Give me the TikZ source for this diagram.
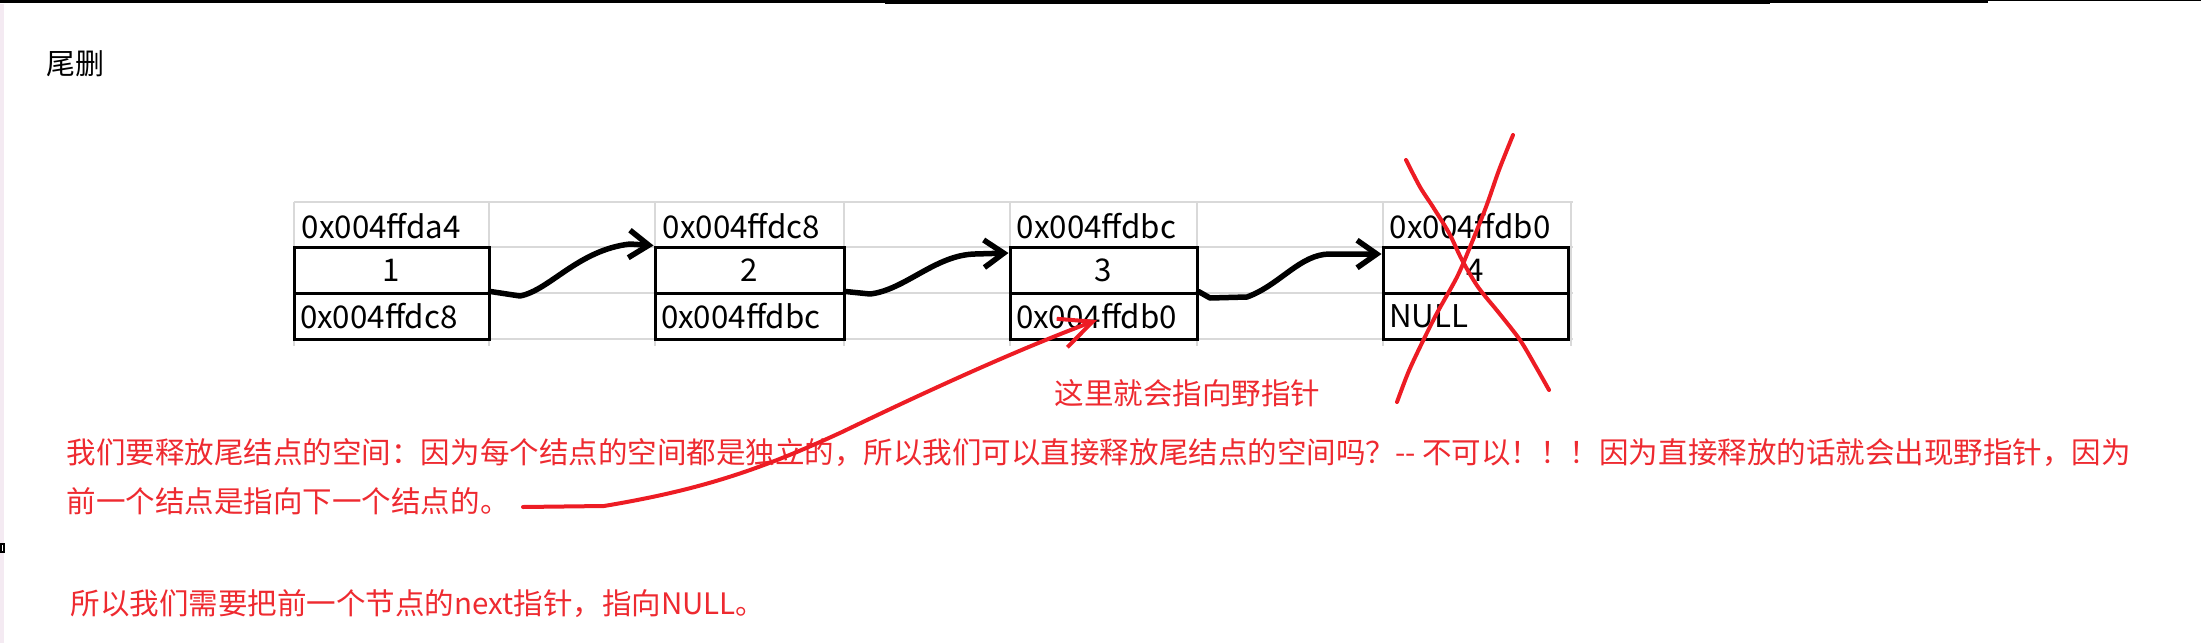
\documentclass[tikz,border=0pt]{standalone}
\usepackage{fontspec}
\setmainfont{Noto Sans CJK SC}
\usepackage{xcolor}
\definecolor{inkRed}   {HTML}{ED1C24}
\definecolor{noteRed}  {HTML}{EE2A30}
\definecolor{gridGray} {HTML}{D9D9D9}
\definecolor{edgeTint} {HTML}{F4EAF2}
\usetikzlibrary{arrows.meta, positioning, calc}
\tikzset{
    cell/.style={draw, thick, line width=0.3mm, rectangle, inner sep=0pt,
                 minimum height=4.6mm, font=\fontsize{8.9}{10}\selectfont},
    nextcell/.style={cell, text width=#1, inner xsep=0.6mm, align=left},
    addr/.style={anchor=base west, inner sep=0pt,
                 font=\fontsize{8.9}{10}\selectfont},
    note/.style={anchor=base west, inner sep=0pt, text=noteRed,
                 font=\fontsize{8.4}{10}\selectfont},
    gridline/.style={gridGray, line width=0.15mm},
    ptr/.style={-{Straight Barb[angle=70:2.4mm]}, line width=0.55mm,
                line cap=round, line join=round},
    wildptr/.style={-{Straight Barb[angle=50:3.6mm]}, inkRed,
                    line width=0.4mm, line cap=round, line join=round},
    crossline/.style={inkRed, line width=0.4mm, line cap=round},
}

\begin{document}
\begin{tikzpicture}[x=0.1mm, y=-0.1mm]
\useasboundingbox (0,0) rectangle (2201,643);

% --- window edge ---
\fill (0,0) rectangle (885,2.8);
\fill (885,0) rectangle (1770,4.2);
\fill (1770,0) rectangle (1988,2.8);
\fill (1988,0) rectangle (2201,1.4);
\fill[edgeTint] (0,4) rectangle (4,643);
\draw[line width=0.2mm, fill=white] (0.6,544) rectangle (4,552);

\node[anchor=base west, inner sep=0pt, font=\fontsize{8.25}{10}\selectfont]
    (title) at (46,74) {尾删};

% --- sheet grid ---
\foreach \gy in {202,247,293,339}
    \draw[gridline] (294,\gy) -- (1573,\gy);
\foreach \gx in {294,489,655,844,1010,1197,1383,1571}
    \draw[gridline] (\gx,202) -- (\gx,346);

% --- node 1 ---
\node[addr] (c1-addr) at (301,238) {0x004ffda4};
\node[cell, minimum width=19.5mm] (c1-val) at (391.5,270) {1};
\node[nextcell=18.3mm] (c1-next) at (391.5,316) {0x004ffdc8};

% --- node 2 ---
\node[addr] (c2-addr) at (662,238) {0x004ffdc8};
\node[cell, minimum width=18.9mm] (c2-val) at (749.5,270) {2};
\node[nextcell=17.7mm] (c2-next) at (749.5,316) {0x004ffdbc};

% --- node 3 ---
\node[addr] (c3-addr) at (1016,238) {0x004ffdbc};
\node[cell, minimum width=18.7mm] (c3-val) at (1103.5,270) {3};
\node[nextcell=17.5mm] (c3-next) at (1103.5,316) {0x004ffdb0};

% --- node 4 (freed) ---
\node[addr] (c4-addr) at (1389,238) {0x004ffdb0};
\node[cell, minimum width=18.5mm] (c4-val) at (1475.5,270) {4};
\node[nextcell=17.3mm] (c4-next) at (1475.5,316) {NULL};

% --- next pointers ---
\draw[ptr] (c1-next.north east) -- (520,296)
    .. controls (550,290) and (578,250) .. (630,244) -- (c2-val.north west);
\draw[ptr] (c2-next.north east) -- (870,294)
    .. controls (905,290) and (935,255) .. (975,254) -- ([yshift=1.7mm]c3-val.west);
\draw[ptr] (c3-next.north east) -- (1210,298) -- (1247,297)
    .. controls (1280,285) and (1300,254) .. (1330,254) -- ([yshift=1.6mm]c4-val.west);

% --- crossed out ---
\draw[crossline] plot[smooth] coordinates {(1513,135) (1499,170) (1486,207)
    (1470,247) (1457,277) (1437,313) (1420,347) (1408,373) (1397,402)};
\draw[crossline] plot[smooth] coordinates {(1406,160) (1420,187) (1433,207)
    (1449,233) (1462,260) (1478,287) (1499,313) (1520,340) (1536,367) (1549,390)};

% --- notes ---
\node[note] (wild) at (1054,404) {这里就会指向野指针};
\node[note] (note1) at (66,463)
    {我们要释放尾结点的空间：因为每个结点的空间都是独立的，所以我们可以直接释放尾结点的空间吗？{-}{-} 不可以！！！因为直接释放的话就会出现野指针，因为};
\node[note] (note2) at (66,512) {前一个结点是指向下一个结点的。};
\node[note] (note3) at (70,614) {所以我们需要把前一个节点的next指针，指向NULL。};

\coordinate (note2-tail) at (523,507);
\coordinate (c3-hit) at (1097,320);
\draw[wildptr] (note2-tail) -- (604,506)
    .. controls (700,490) and (760,470) .. (842,432)
    .. controls (950,380) and (1030,345) .. (c3-hit);
\end{tikzpicture}
\end{document}
